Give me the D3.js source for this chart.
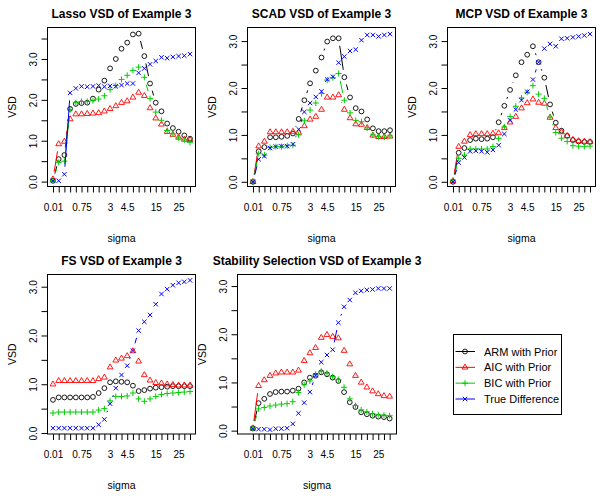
<!DOCTYPE html>
<html><head><meta charset="utf-8">
<script src="https://cdn.jsdelivr.net/npm/d3@7"></script>
<style>body{margin:0;background:#fff} svg{display:block} text{font-family:"Liberation Sans",Arial,Helvetica,sans-serif;fill:#000}</style>
</head><body><svg id="chart" width="600" height="500"></svg>
<script>
// ---------------- data ----------------
const sigmaTickLabels = ["0.01","","","","","0.75","","","","","3","","","4.5","","","","","15","","","","25","",""];
const yTickValues = [0, 0.5, 1, 1.5, 2, 2.5, 3, 3.5];
const yTickLabels = ["0.0", "", "1.0", "", "2.0", "", "3.0", ""];
const seriesNames = ["ARM with Prior", "AIC with Prior", "BIC with Prior", "True Difference"];
const seriesColors = ["#000000", "#FF0000", "#00CD00", "#0000FF"];
const seriesShapes = ["circle", "triangle", "plus", "cross"];
const panelTitles = ["Lasso VSD of Example 3", "SCAD VSD of Example 3", "MCP VSD of Example 3",
                     "FS VSD of Example 3", "Stability Selection VSD of Example 3"];

const lassoARM  = [0.02,0.55,0.65,1.78,1.90,1.92,1.93,2.03,2.25,2.47,2.77,3.00,3.25,3.40,3.60,3.62,3.07,2.40,1.93,1.72,1.42,1.31,1.22,1.13,1.05];
const lassoAIC  = [0.06,0.92,0.98,1.53,1.65,1.65,1.66,1.67,1.68,1.72,1.78,1.85,1.93,1.97,2.06,2.18,2.10,1.80,1.55,1.40,1.22,1.15,1.08,1.03,1.02];
const lassoBIC  = [0.03,0.47,0.50,1.76,1.93,1.96,1.96,1.98,2.02,2.10,2.25,2.35,2.50,2.60,2.72,2.80,2.55,2.03,1.70,1.50,1.25,1.17,1.07,1.02,0.96];
const lassoTrue = [0.02,0.02,0.18,2.17,2.28,2.33,2.32,2.33,2.35,2.32,2.34,2.33,2.36,2.40,2.40,2.66,2.77,2.87,2.95,3.04,3.02,3.05,3.07,3.08,3.12];

const scadARM  = [0.00,0.65,0.74,0.95,0.95,0.96,0.98,1.03,1.34,1.74,2.10,2.37,2.65,2.99,3.06,3.06,2.23,1.80,1.57,1.50,1.33,1.14,1.08,1.08,1.10];
const scadAIC  = [0.00,0.76,0.86,1.06,1.06,1.06,1.06,1.07,1.05,1.19,1.33,1.39,1.54,1.80,1.80,1.85,1.54,1.36,1.23,1.22,1.15,0.99,0.96,0.96,0.97];
const scadBIC  = [0.00,0.60,0.57,0.73,0.75,0.75,0.77,0.78,1.00,1.30,1.53,1.68,1.88,2.17,2.22,2.31,1.74,1.47,1.31,1.28,1.15,1.00,0.96,0.95,0.98];
const scadTrue = [0.00,0.48,0.55,0.72,0.75,0.76,0.76,0.80,1.12,1.49,1.68,1.81,1.93,2.18,2.24,2.54,2.67,2.79,2.82,3.02,3.13,3.13,3.10,3.13,3.15];

const mcpARM  = [0.00,0.62,0.72,0.89,0.92,0.91,0.92,0.95,1.27,1.62,1.96,2.27,2.55,2.71,2.89,2.55,2.22,1.65,1.26,1.09,0.98,0.89,0.86,0.85,0.85];
const mcpAIC  = [0.02,0.75,0.86,1.00,1.02,1.02,1.02,1.03,1.04,1.15,1.27,1.39,1.57,1.68,1.76,1.69,1.67,1.37,1.15,1.06,0.98,0.90,0.87,0.86,0.85];
const mcpBIC  = [0.02,0.50,0.57,0.70,0.70,0.70,0.70,0.75,0.92,1.17,1.39,1.61,1.79,1.91,2.05,1.87,1.78,1.38,1.05,0.93,0.86,0.77,0.76,0.75,0.76];
const mcpTrue = [0.00,0.41,0.52,0.65,0.66,0.65,0.63,0.68,0.78,1.02,1.31,1.54,1.74,1.92,2.18,2.55,2.84,2.94,2.89,3.05,3.06,3.08,3.10,3.12,3.15];

const fsARM  = [0.68,0.73,0.73,0.73,0.73,0.73,0.73,0.74,0.82,0.92,1.04,1.06,1.05,1.04,0.97,0.86,0.88,0.91,0.93,0.94,0.95,0.96,0.96,0.96,0.96];
const fsAIC  = [1.00,1.07,1.07,1.07,1.07,1.07,1.07,1.07,1.11,1.14,1.35,1.49,1.53,1.58,1.68,1.47,1.19,1.08,1.03,1.02,1.00,0.99,0.98,0.98,0.98];
const fsBIC  = [0.41,0.43,0.43,0.43,0.43,0.43,0.43,0.43,0.47,0.50,0.66,0.75,0.75,0.76,0.82,0.70,0.65,0.70,0.75,0.79,0.81,0.82,0.83,0.84,0.85];
const fsTrue = [0.10,0.10,0.10,0.10,0.10,0.10,0.10,0.10,0.17,0.28,0.60,0.92,1.19,1.38,1.69,2.10,2.28,2.42,2.64,2.85,2.95,3.03,3.08,3.10,3.13];

const stabARM  = [0.05,0.57,0.66,0.76,0.80,0.81,0.81,0.83,0.87,1.00,1.10,1.14,1.21,1.17,1.10,1.03,0.80,0.59,0.49,0.38,0.34,0.31,0.29,0.28,0.25];
const stabAIC  = [0.05,0.93,1.05,1.14,1.19,1.21,1.21,1.21,1.25,1.45,1.61,1.72,1.93,1.99,1.95,1.92,1.66,1.38,1.14,1.00,0.90,0.82,0.76,0.72,0.71];
const stabBIC  = [0.04,0.45,0.48,0.51,0.53,0.55,0.56,0.60,0.79,0.95,1.03,1.17,1.23,1.19,1.12,1.06,0.90,0.66,0.52,0.43,0.39,0.35,0.33,0.32,0.31];
const stabTrue = [0.04,0.03,0.03,0.02,0.04,0.04,0.05,0.14,0.36,0.58,0.80,1.15,1.42,1.57,1.68,2.24,2.57,2.71,2.86,2.90,2.92,2.93,2.95,2.95,2.95];

// ---------------- layout ----------------
const panels = [
  {title: panelTitles[0], series: [lassoARM, lassoAIC, lassoBIC, lassoTrue], box: [47.5, 27.5, 195.5, 186.5], xlim: [-0.96, 24.96], ylim: [-0.12, 3.77]},
  {title: panelTitles[1], series: [scadARM, scadAIC, scadBIC, scadTrue],     box: [247.5, 27.5, 395.5, 186.5], xlim: [-0.96, 24.96], ylim: [-0.1, 3.29]},
  {title: panelTitles[2], series: [mcpARM, mcpAIC, mcpBIC, mcpTrue],         box: [447.5, 27.5, 595.5, 186.5], xlim: [-0.96, 24.96], ylim: [-0.1, 3.29]},
  {title: panelTitles[3], series: [fsARM, fsAIC, fsBIC, fsTrue],             box: [47.5, 274.5, 195.5, 434], xlim: [-0.96, 24.96], ylim: [-0.02, 3.25]},
  {title: panelTitles[4], series: [stabARM, stabAIC, stabBIC, stabTrue],     box: [237.5, 274.5, 396.5, 434], xlim: [-2.7, 25.2], ylim: [-0.07, 3.24]}
];

const svg = d3.select("#chart");
const GAP = 7.5;

function drawSymbol(g, shape, x, y, color) {
  if (shape === "circle") {
    g.append("circle").attr("cx", x).attr("cy", y).attr("r", 2.4)
      .attr("fill", "none").attr("stroke", color).attr("stroke-width", 0.9);
  } else if (shape === "triangle") {
    g.append("path").attr("d", `M${x-2.9},${y+1.7}L${x+2.9},${y+1.7}L${x},${y-3.3}Z`)
      .attr("fill", "none").attr("stroke", color).attr("stroke-width", 0.9);
  } else if (shape === "plus") {
    g.append("path").attr("d", `M${x-3},${y}H${x+3}M${x},${y-3}V${y+3}`)
      .attr("fill", "none").attr("stroke", color).attr("stroke-width", 1);
  } else {
    g.append("path").attr("d", `M${x-2.2},${y-2.2}L${x+2.2},${y+2.2}M${x-2.2},${y+2.2}L${x+2.2},${y-2.2}`)
      .attr("fill", "none").attr("stroke", color).attr("stroke-width", 1);
  }
}

panels.forEach(p => {
  const [L, T, R, B] = p.box;
  const x = d3.scaleLinear().domain(p.xlim).range([L, R]);
  const y = d3.scaleLinear().domain(p.ylim).range([B, T]);
  const g = svg.append("g");

  g.append("rect").attr("x", L).attr("y", T).attr("width", R - L).attr("height", B - T)
    .attr("fill", "none").attr("stroke", "#000").attr("stroke-width", 1);

  const n = sigmaTickLabels.length;
  const xAxis = d3.axisBottom(x).tickValues(d3.range(n)).tickSize(6)
    .tickFormat(i => sigmaTickLabels[i]);
  const xa = g.append("g").attr("transform", `translate(0,${B})`).call(xAxis);
  xa.select(".domain").remove();
  xa.selectAll("line").attr("stroke", "#000");
  xa.selectAll("text").attr("font-size", 10).attr("font-family", null).attr("y", 17).attr("dy", "0.71em").attr("fill", "#000");

  const yVals = yTickValues.filter(v => v >= p.ylim[0] && v <= p.ylim[1]);
  const yAxis = d3.axisLeft(y).tickValues(yVals).tickSize(6)
    .tickFormat(v => yTickLabels[yTickValues.indexOf(v)]);
  const ya = g.append("g").attr("transform", `translate(${L},0)`).call(yAxis);
  ya.select(".domain").remove();
  ya.selectAll("line").attr("stroke", "#000");
  ya.selectAll("text").attr("font-size", 10).attr("font-family", null).attr("fill", "#000")
    .attr("x", null).attr("dy", null)
    .attr("text-anchor", "middle")
    .attr("transform", "translate(-11,0) rotate(-90)");

  g.append("text").attr("x", (L + R) / 2).attr("y", T - 10).attr("text-anchor", "middle")
    .attr("font-size", 12).attr("font-weight", "bold").text(p.title);
  g.append("text").attr("x", (L + R) / 2).attr("y", B + 55).attr("text-anchor", "middle")
    .attr("font-size", 10.5).text("sigma");
  g.append("text").attr("transform", `translate(${L - 32},${(T + B) / 2}) rotate(-90)`)
    .attr("text-anchor", "middle").attr("font-size", 10.5).text("VSD");

  // series: R type "b" (segments with gaps around points)
  p.series.forEach((vals, s) => {
    const col = seriesColors[s];
    const pts = vals.map((v, i) => [x(i), y(v)]);
    for (let i = 0; i < pts.length - 1; i++) {
      const [x0, y0] = pts[i], [x1, y1] = pts[i + 1];
      const len = Math.hypot(x1 - x0, y1 - y0);
      if (len > 2 * GAP) {
        const ux = (x1 - x0) / len, uy = (y1 - y0) / len;
        g.append("line").attr("x1", x0 + ux * GAP).attr("y1", y0 + uy * GAP)
          .attr("x2", x1 - ux * GAP).attr("y2", y1 - uy * GAP)
          .attr("stroke", col).attr("stroke-width", 1);
      }
    }
    pts.forEach(([px, py]) => drawSymbol(g, seriesShapes[s], px, py, col));
  });
});

// legend
const lg = svg.append("g");
lg.append("rect").attr("x", 453.5).attr("y", 334.5).attr("width", 108).attr("height", 80)
  .attr("fill", "none").attr("stroke", "#000").attr("stroke-width", 1);
const legY = d3.scalePoint().domain(seriesNames).range([351.5, 399]);
seriesNames.forEach((name, s) => {
  const yy = legY(name);
  lg.append("line").attr("x1", 455.5).attr("x2", 475).attr("y1", yy).attr("y2", yy)
    .attr("stroke", seriesColors[s]).attr("stroke-width", 1);
  drawSymbol(lg, seriesShapes[s], 465, yy, seriesColors[s]);
  lg.append("text").attr("x", 484).attr("y", yy + 4).attr("font-size", 11).text(name);
});
</script></body></html>
